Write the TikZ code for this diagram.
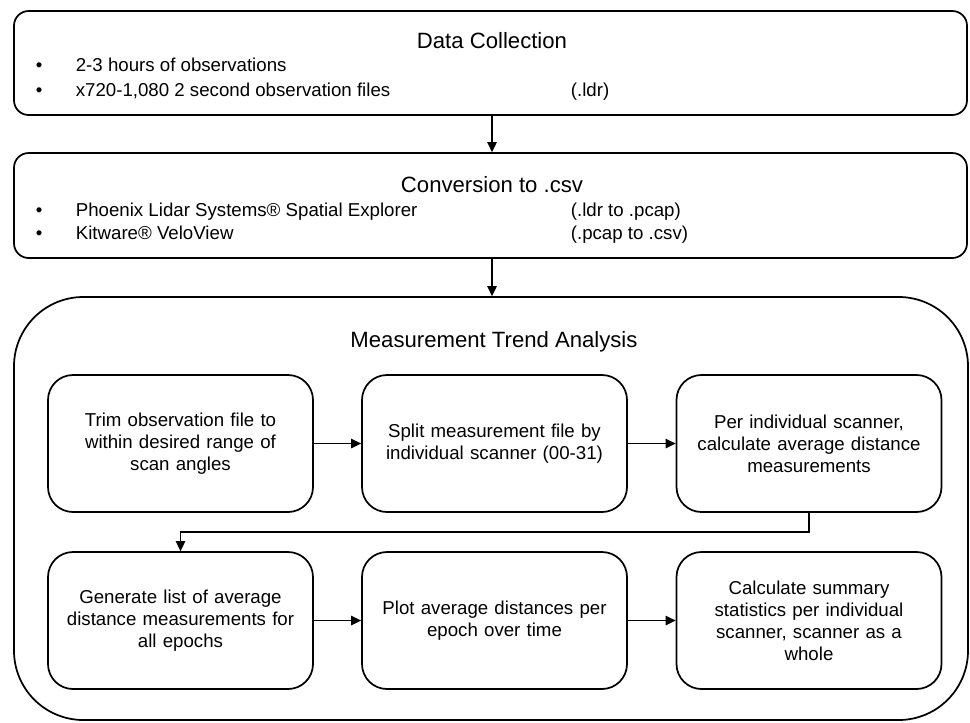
\documentclass[tikz,border=0pt]{standalone}
\usepackage{fontspec}
\setmainfont{Liberation Sans}
\usetikzlibrary{arrows.meta}
\begin{document}
\begin{tikzpicture}[x=0.75pt,y=-0.75pt,
  line width=1.3pt,
  outerbox/.style={draw, rectangle, rounded corners=11pt, minimum width=714.75pt, inner sep=0pt},
  bigbox/.style={draw, rectangle, rounded corners=52pt, minimum width=715.5pt, minimum height=317.25pt, inner sep=0pt},
  stepbox/.style={draw, rectangle, rounded corners=18.75pt, minimum width=198.75pt, minimum height=102.75pt, align=center, text width=190pt, font=\fontsize{14}{16.5}\selectfont, inner sep=0pt},
  title/.style={font=\fontsize{16.6}{19}\selectfont, inner sep=0pt, anchor=base},
  item/.style={font=\fontsize{14}{16.5}\selectfont, inner sep=0pt, anchor=base west},
  arr/.style={-{Triangle[length=7.5pt,width=7pt]}, line width=1.3pt}]
\useasboundingbox (0,0) rectangle (970,722);
% outer boxes
\node[outerbox, minimum height=78pt] (dc) at (490.5,63) {};
\node[outerbox, minimum height=78.75pt] (conv) at (490.5,205.5) {};
\node[bigbox] (mta) at (491,508.5) {};
% Data collection texts
\node[title] (dct) at (492,48) {Data Collection};
\node[item] (dcb1) at (35,71) {•};
\node[item] (dci1) at (75,71) {2-3 hours of observations};
\node[item] (dcb2) at (35,96) {•};
\node[item] (dci2) at (75,96) {x720-1,080 2 second observation files};
\node[item] (dce2) at (570,96) {(.ldr)};
% Conversion texts
\node[title] (cvt) at (492,192) {Conversion to .csv};
\node[item] (cvb1) at (35,216) {•};
\node[item] (cvi1) at (75,216) {Phoenix Lidar Systems® Spatial Explorer};
\node[item] (cve1) at (570,216) {(.ldr to .pcap)};
\node[item] (cvb2) at (35,239) {•};
\node[item] (cvi2) at (75,239) {Kitware® VeloView};
\node[item] (cve2) at (570,239) {(.pcap to .csv)};
% Measurement trend analysis
\node[title] (mtat) at (494,347) {Measurement Trend Analysis};
\node[stepbox] (a) at (180.5,443.5) {Trim observation file to\\within desired range of\\scan angles};
\node[stepbox] (b) at (494.5,443.5) {Split measurement file by\\individual scanner (00-31)};
\node[stepbox] (c) at (809,443.5) {Per individual scanner,\\calculate average distance\\measurements};
\node[stepbox] (d) at (180.5,620.5) {Generate list of average\\distance measurements for\\all epochs};
\node[stepbox] (e) at (494.5,620.5) {Plot average distances per\\epoch over time};
\node[stepbox] (f) at (809,620.5) {Calculate summary\\statistics per individual\\scanner, scanner as a\\whole};
% connectors
\draw[arr] (dc.south -| 492,0) -- (conv.north -| 492,0);
\draw[arr] (conv.south -| 492,0) -- (mta.north -| 492,0);
\draw[arr] (a) -- (b);
\draw[arr] (b) -- (c);
\draw[arr] (c.south) -- (c.south |- 0,532) -| (d.north);
\draw[arr] (d) -- (e);
\draw[arr] (e) -- (f);
\end{tikzpicture}
\end{document}
